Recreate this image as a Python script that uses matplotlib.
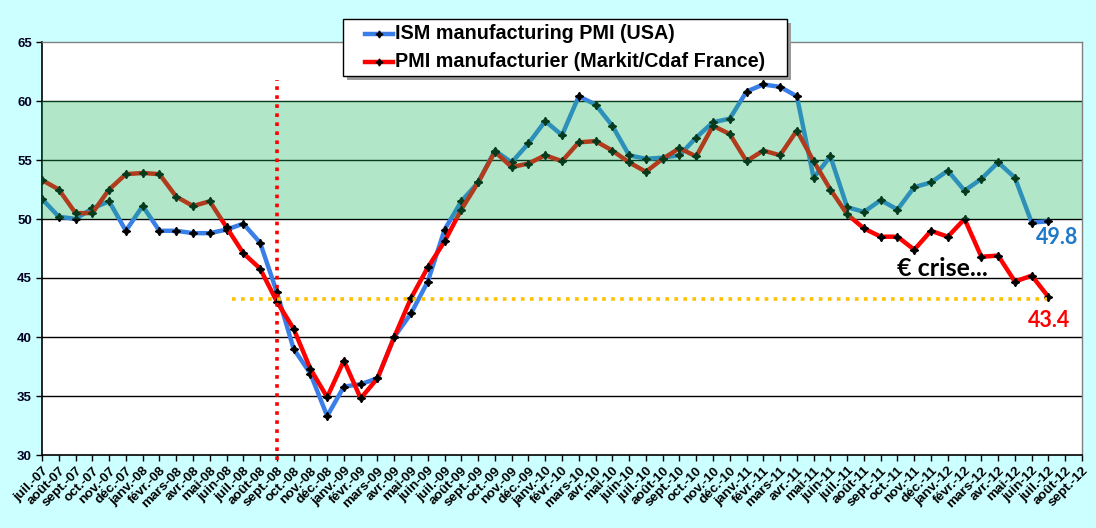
import numpy as np
import matplotlib
matplotlib.use("Agg")
import matplotlib.pyplot as plt
from matplotlib.patches import Rectangle
from matplotlib.lines import Line2D

months = ['juil.-07','août-07','sept.-07','oct.-07','nov.-07','déc.-07',
          'janv.-08','févr.-08','mars-08','avr.-08','mai-08','juin-08','juil.-08','août-08','sept.-08','oct.-08','nov.-08','déc.-08',
          'janv.-09','févr.-09','mars-09','avr.-09','mai-09','juin-09','juil.-09','août-09','sept.-09','oct.-09','nov.-09','déc.-09',
          'janv.-10','févr.-10','mars-10','avr.-10','mai-10','juin-10','juil.-10','août-10','sept.-10','oct.-10','nov.-10','déc.-10',
          'janv.-11','févr.-11','mars-11','avr.-11','mai-11','juin-11','juil.-11','août-11','sept.-11','oct.-11','nov.-11','déc.-11',
          'janv.-12','févr.-12','mars-12','avr.-12','mai-12','juin-12','juil.-12','août-12','sept.-12']

ism_usa = [51.7, 50.2, 50.0, 50.9, 51.5, 49.0, 51.1, 49.0, 49.0, 48.8, 48.8, 49.1, 49.6, 48.0,
           43.8, 39.0, 36.9, 33.3, 35.8, 36.0, 36.5, 40.0, 42.0, 44.7, 49.1, 51.5, 53.1, 55.8,
           54.8, 56.4, 58.3, 57.1, 60.4, 59.7, 57.9, 55.4, 55.1, 55.2, 55.4, 56.9, 58.2, 58.5,
           60.8, 61.4, 61.2, 60.4, 53.5, 55.3, 51.0, 50.6, 51.6, 50.8, 52.7, 53.1, 54.1, 52.4,
           53.4, 54.8, 53.5, 49.7, 49.8, None, None]

pmi_france = [53.3, 52.5, 50.5, 50.5, 52.5, 53.8, 53.9, 53.8, 51.9, 51.1, 51.5, 49.3, 47.1, 45.8,
              43.0, 40.7, 37.3, 34.9, 38.0, 34.8, 36.5, 40.0, 43.3, 45.9, 48.1, 50.8, 53.1, 55.7,
              54.4, 54.7, 55.4, 54.9, 56.5, 56.6, 55.8, 54.8, 54.0, 55.1, 56.0, 55.3, 57.9, 57.2,
              54.9, 55.8, 55.4, 57.5, 54.9, 52.5, 50.4, 49.2, 48.5, 48.5, 47.4, 49.0, 48.5, 50.0,
              46.8, 46.9, 44.7, 45.2, 43.4, None, None]

labels = ['ISM manufacturing PMI (USA)', 'PMI manufacturier (Markit/Cdaf France)']
zone_low, zone_high = 50, 60
threshold = 43.2
lehman_idx = 14

W, H = 1096, 528
x = np.arange(len(months))
usa = np.array([np.nan if v is None else v for v in ism_usa], dtype=float)
fra = np.array([np.nan if v is None else v for v in pmi_france], dtype=float)

blue = '#3a7fe8'
red = '#ff0000'

fig = plt.figure(figsize=(W/100, H/100), dpi=100, facecolor='#ccffff')
ax = fig.add_axes([42/W, 1-455/H, (1082-42)/W, (455-42)/H])
ax.set_facecolor('white')
ax.set_xlim(0, len(months)-1)
ax.set_ylim(30, 65)

for yv in [35, 40, 45, 50, 55, 60]:
    ax.axhline(yv, color='black', lw=1.0, zorder=1)

star = (4, 1, 0)
ax.plot(x, usa, color=blue, lw=3.2, marker=star, ms=6, mfc='black', mec='black',
        zorder=3, solid_joinstyle='round')
ax.plot(x, fra, color=red, lw=3.2, marker=star, ms=6, mfc='black', mec='black',
        zorder=3, solid_joinstyle='round')

# translucent green zone drawn over the lines
ax.axhspan(zone_low, zone_high, facecolor=(20/255, 180/255, 90/255), alpha=0.33, lw=0, zorder=4)

ax.plot([11.3, 59.9], [threshold, threshold], color='#ffc000', lw=2.6,
        linestyle=(0, (1, 1.5)), dash_capstyle='butt', zorder=5)
ax.plot([lehman_idx, lehman_idx], [29.6, 61.8], color=red, lw=2.6,
        linestyle=(0, (1, 1.5)), dash_capstyle='butt', zorder=5, clip_on=False)

ax.text(60.5, 48.4, '49.8', color='#1f78c8', fontsize=15.5, fontweight='bold',
        family='Lato', ha='center', va='center', zorder=6)
ax.text(60.05, 41.4, '43.4', color=red, fontsize=15.5, fontweight='bold',
        family='Lato', ha='center', va='center', zorder=6)
ax.text(53.7, 45.8, '€ crise...', color='black', fontsize=18, fontweight='bold',
        family='Lato', ha='center', va='center', zorder=6)

ax.set_yticks([30, 35, 40, 45, 50, 55, 60, 65])
ax.set_yticklabels(['30', '35', '40', '45', '50', '55', '60', '65'],
                   fontsize=9.5, fontweight='bold', family='Liberation Sans', color='#000022')
ax.set_xticks(x)
ax.set_xticklabels(months, rotation=45, ha='right', rotation_mode='anchor',
                   fontsize=9.7, fontweight='bold', family='Liberation Sans')
ax.tick_params(axis='both', direction='out', length=4, width=1, color='black')
ax.tick_params(axis='y', pad=3.3)
ax.tick_params(axis='x', pad=3)

for s in ['left', 'bottom']:
    ax.spines[s].set_color('black')
    ax.spines[s].set_linewidth(1.2)
for s in ['top', 'right']:
    ax.spines[s].set_color('#808080')
    ax.spines[s].set_linewidth(1.0)

# legend box (pixel layout converted to figure fractions)
def fx(px):
    return px / W
def fy(py):
    return 1 - py / H

bx0, by0, bx1, by1 = 343, 19, 787, 76
fig.patches.append(Rectangle((fx(bx0 + 4), fy(by1 + 4)), fx(bx1 - bx0), (by1 - by0) / H,
                             transform=fig.transFigure, facecolor='#9a9a9a', edgecolor='none',
                             zorder=10))
fig.patches.append(Rectangle((fx(bx0), fy(by1)), fx(bx1 - bx0), (by1 - by0) / H,
                             transform=fig.transFigure, facecolor='white', edgecolor='black',
                             lw=1.0, zorder=11))
rows = [(33.5, blue, labels[0]), (61.5, red, labels[1])]
for ry, col, lab in rows:
    fig.lines.append(Line2D([fx(365), fx(393)], [fy(ry), fy(ry)], transform=fig.transFigure,
                            color=col, lw=3.2, zorder=12))
    fig.lines.append(Line2D([fx(379)], [fy(ry)], transform=fig.transFigure, marker=star,
                            ms=5, mfc='black', mec='black', ls='none', zorder=13))
    fig.text(fx(395), fy(ry), lab, ha='left', va='center', fontsize=14.2, fontweight='bold',
             family='Liberation Sans', color='black', zorder=13)

fig.savefig('out.png', dpi=100, facecolor=fig.get_facecolor())
